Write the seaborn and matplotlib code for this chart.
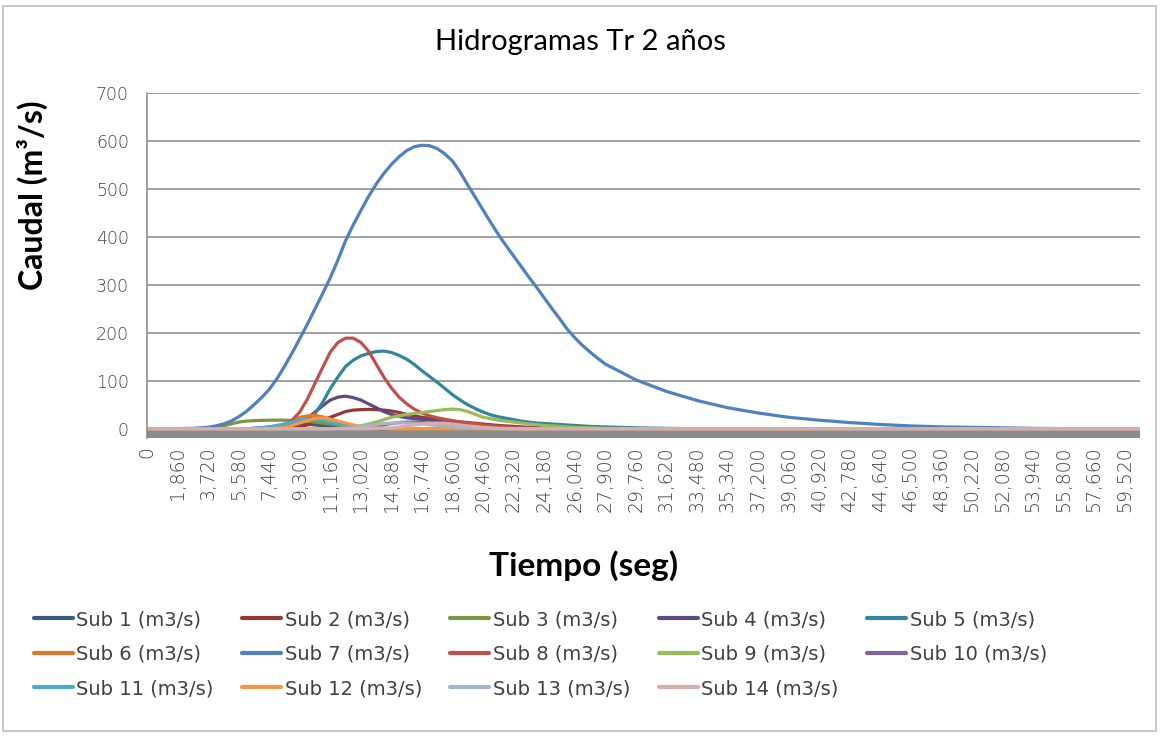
import matplotlib

matplotlib.use("Agg")
import matplotlib.pyplot as plt  # noqa: E402
import pandas as pd  # noqa: E402
import seaborn as sns  # noqa: E402
from matplotlib.lines import Line2D  # noqa: E402
from matplotlib.patches import Rectangle  # noqa: E402
from matplotlib.ticker import FuncFormatter, MultipleLocator  # noqa: E402

# tiempo (s): coarse at the ends, finer where the hydrographs move
tiempo = [
    0, 930, 1860, 2790, 3720,
    4185, 4650, 5115, 5580, 6045, 6510, 6975, 7440, 7905, 8370,
    8835, 9300, 9765, 10230, 10695, 11160, 11625, 12090, 12555, 13020,
    13485, 13950, 14415, 14880, 15345, 15810, 16275, 16740, 17205, 17670,
    18135, 18600, 19065, 19530, 19995, 20460, 20925, 21390, 21855, 22320,
    22785, 23250, 23715, 24180, 24645, 25110, 25575, 26040, 26505, 26970, 27435, 27900,
    29760, 31620, 33480, 35340, 37200, 39060, 40920, 42780, 44640, 46500,
    48360, 50220, 52080, 53940, 55800, 57660, 59520, 60450,
]

sub1 = [
    0, 0, 0, 0, 0,
    0, 0, 0, 0, 0, 1, 2, 4, 6, 8,
    9.5, 10, 9.5, 8, 6.5, 5, 3.5, 2, 1.5, 1,
    0.5, 0, 0, 0, 0, 0, 0, 0, 0, 0,
    0, 0, 0, 0, 0, 0, 0, 0, 0, 0,
    0, 0, 0, 0, 0, 0, 0, 0, 0, 0, 0, 0,
    0, 0, 0, 0, 0, 0, 0, 0, 0, 0, 0, 0, 0, 0, 0, 0, 0, 0,
]
sub2 = [
    0, 0, 0, 0, 0,
    0, 0, 0, 0, 0, 0, 0, 0, 0.5, 1,
    2.5, 5, 8, 12, 18, 24, 30, 36, 39, 40,
    40.5, 40, 39, 37, 34, 30, 27, 24, 22, 20,
    18, 16, 14.5, 13, 11.5, 10, 8.5, 7, 6, 5,
    4, 3, 2.5, 2, 1.5, 1, 0.5, 0, 0, 0, 0, 0,
    0, 0, 0, 0, 0, 0, 0, 0, 0, 0, 0, 0, 0, 0, 0, 0, 0, 0,
]
sub3 = [
    0, 0, 0, 0, 1,
    3, 6, 10, 14, 16, 17, 17.5, 18, 18, 18,
    17.5, 17, 16, 14, 12, 10, 8, 6, 4.5, 3,
    2, 1.5, 1, 0.5, 0, 0, 0, 0, 0, 0,
    0, 0, 0, 0, 0, 0, 0, 0, 0, 0,
    0, 0, 0, 0, 0, 0, 0, 0, 0, 0, 0, 0,
    0, 0, 0, 0, 0, 0, 0, 0, 0, 0, 0, 0, 0, 0, 0, 0, 0, 0,
]
sub4 = [
    0, 0, 0, 0, 0,
    0, 0, 0, 0, 0, 0, 0, 0.5, 1.5, 3,
    6, 12, 22, 35, 48, 60, 66, 68, 65, 60,
    52, 44, 36, 30, 26, 23, 21, 19.5, 18, 17,
    15, 13, 11, 9, 7.5, 6, 5, 4, 3, 2,
    1.5, 1, 0.5, 0, 0, 0, 0, 0, 0, 0, 0, 0,
    0, 0, 0, 0, 0, 0, 0, 0, 0, 0, 0, 0, 0, 0, 0, 0, 0, 0,
]
sub5 = [
    0, 0, 0, 0, 0,
    0, 0, 0, 0, 0, 0.5, 1, 2, 3, 5,
    8, 13, 20, 32, 55, 84, 108, 130, 143, 152,
    157, 161, 162, 159, 153, 145, 134, 121, 109, 97,
    84, 71, 60, 50, 42, 35, 29, 25, 22, 19,
    16, 14, 12, 11, 10, 9, 8, 7, 6, 5, 4.5, 4,
    2, 1, 0, 0, 0, 0, 0, 0, 0, 0, 0, 0, 0, 0, 0, 0, 0, 0,
]
sub6 = [
    0, 0, 0, 0, 0,
    0, 0, 0, 0, 0, 0, 0.5, 2, 5, 10,
    17, 24, 27, 28, 25, 20, 15, 10, 6.5, 4,
    2, 1, 0.5, 0, 0, 0, 0, 0, 0, 0,
    0, 0, 0, 0, 0, 0, 0, 0, 0, 0,
    0, 0, 0, 0, 0, 0, 0, 0, 0, 0, 0, 0,
    0, 0, 0, 0, 0, 0, 0, 0, 0, 0, 0, 0, 0, 0, 0, 0, 0, 0,
]
sub7 = [
    0, 0, 0.5, 1, 3,
    6, 10, 16, 25, 36, 50, 65, 82, 104, 130,
    158, 188, 218, 250, 282, 315, 352, 392, 425, 455,
    484, 510, 532, 551, 567, 580, 588, 591, 590, 584,
    573, 558, 535, 508, 482, 456, 430, 405, 382, 360,
    338, 316, 295, 273, 251, 230, 208, 190, 174, 160, 147, 135,
    102, 78, 59, 44, 33, 24, 18, 13, 9, 6, 4, 3, 2, 1, 0.5, 0, 0, 0,
]
sub8 = [
    0, 0, 0, 0, 0,
    0, 0, 0, 0, 0, 0, 0.5, 2, 4, 8,
    18, 35, 62, 95, 128, 160, 180, 189, 189, 180,
    162, 135, 108, 85, 66, 52, 41, 33, 27, 23,
    20, 17, 14, 12, 10, 8, 6.5, 5, 4, 3,
    2, 1.5, 1, 0.5, 0, 0, 0, 0, 0, 0, 0, 0,
    0, 0, 0, 0, 0, 0, 0, 0, 0, 0, 0, 0, 0, 0, 0, 0, 0, 0,
]
sub9 = [
    0, 0, 0, 0, 0,
    0, 0, 0, 0, 0, 0, 0, 0, 0, 0,
    0, 0, 0, 0, 0, 0, 1, 2, 4, 6,
    10, 14, 19, 24, 27, 30, 32, 34, 36, 38,
    40, 41, 40, 36, 30, 24, 21, 18, 16, 14,
    12, 10, 8.5, 7, 6, 5, 4, 3, 2.5, 2, 1.5, 1,
    0.5, 0, 0, 0, 0, 0, 0, 0, 0, 0, 0, 0, 0, 0, 0, 0, 0, 0,
]
sub10 = [
    0, 0, 0, 0, 0,
    0, 0, 0, 0, 0, 0, 0, 0, 0, 0,
    0, 0, 0, 0, 0, 0, 0, 0, 1, 2,
    4, 6, 8.5, 11, 13, 14, 14, 13, 11.5, 10,
    8.5, 7, 5.5, 4, 3, 2, 1.5, 1, 0.5, 0,
    0, 0, 0, 0, 0, 0, 0, 0, 0, 0, 0, 0,
    0, 0, 0, 0, 0, 0, 0, 0, 0, 0, 0, 0, 0, 0, 0, 0, 0, 0,
]
sub11 = [
    0, 0, 0, 0, 0,
    0, 0, 0, 0, 0, 1, 2, 4, 7, 10,
    14, 18, 20, 20, 18, 14, 10, 7, 5, 3,
    2, 1, 0.5, 0, 0, 0, 0, 0, 0, 0,
    0, 0, 0, 0, 0, 0, 0, 0, 0, 0,
    0, 0, 0, 0, 0, 0, 0, 0, 0, 0, 0, 0,
    0, 0, 0, 0, 0, 0, 0, 0, 0, 0, 0, 0, 0, 0, 0, 0, 0, 0,
]
sub12 = [
    0, 0, 0, 0, 0,
    0, 0, 0, 0, 0, 0, 0, 0, 1, 3,
    7, 12, 17, 22, 22.5, 20, 16, 12, 8, 5,
    3, 2, 1, 0, 0, 0, 0, 0, 0, 0,
    0, 0, 0, 0, 0, 0, 0, 0, 0, 0,
    0, 0, 0, 0, 0, 0, 0, 0, 0, 0, 0, 0,
    0, 0, 0, 0, 0, 0, 0, 0, 0, 0, 0, 0, 0, 0, 0, 0, 0, 0,
]
sub13 = [
    0, 0, 0, 0, 0,
    0, 0, 0, 0, 0, 0, 0, 0, 0, 0,
    0, 0, 0, 0, 0, 0, 0.5, 1, 2, 4,
    6.5, 9, 11, 12, 12.5, 12, 11, 10, 8.5, 7,
    5.5, 4, 3, 2, 1.5, 1, 0.5, 0, 0, 0,
    0, 0, 0, 0, 0, 0, 0, 0, 0, 0, 0, 0,
    0, 0, 0, 0, 0, 0, 0, 0, 0, 0, 0, 0, 0, 0, 0, 0, 0, 0,
]
sub14 = [
    0, 0, 0, 0, 0,
    0, 0, 0, 0, 0, 0, 0, 0, 0, 0,
    0, 0, 0, 0, 0, 0, 0, 0, 0, 0,
    0, 0, 1, 2, 4, 6, 8, 10, 11.5, 12,
    11.5, 10, 8, 6, 4.5, 3, 2, 1, 0.5, 0,
    0, 0, 0, 0, 0, 0, 0, 0, 0, 0, 0, 0,
    0, 0, 0, 0, 0, 0, 0, 0, 0, 0, 0, 0, 0, 0, 0, 0, 0, 0,
]

series = [sub1, sub2, sub3, sub4, sub5, sub6, sub7,
          sub8, sub9, sub10, sub11, sub12, sub13, sub14]
nombres = [f"Sub {i} (m3/s)" for i in range(1, 15)]
colores = [
    "#3B5A80", "#953735", "#7E9446", "#5E4A7C", "#31859C", "#E0782A", "#4F81BD",
    "#C0504D", "#9BBB59", "#8064A2", "#4BACC6", "#F79646", "#A5B4CE", "#D6AFAD",
]
assert all(len(s) == len(tiempo) for s in series)

rows = []
for nombre, vals in zip(nombres, series):
    for t, q in zip(tiempo, vals):
        rows.append({"Tiempo": t, "Caudal": q, "Serie": nombre})
df = pd.DataFrame(rows)

sns.set_theme(style="white")
plt.rcParams["font.family"] = ["Lato", "DejaVu Sans"]

fig = plt.figure(figsize=(11.61, 7.36), dpi=100)
fig.patch.set_facecolor("white")
fig.patches.append(Rectangle((0.003, 0.007), 0.993, 0.985, transform=fig.transFigure,
                             fill=False, edgecolor="#BFBFBF", linewidth=1.2))

ax = fig.add_axes([0.1266, 0.405, 0.8553, 0.4687])
ax.set_facecolor("white")

sns.lineplot(data=df, x="Tiempo", y="Caudal", hue="Serie", hue_order=nombres,
             palette=dict(zip(nombres, colores)), linewidth=2.3, sort=False,
             legend=False, ax=ax)
for ln in ax.get_lines():
    ln.set_solid_joinstyle("round")

ax.axhspan(-19, 0, color="#8E8B8F", zorder=1.5, linewidth=0)
ax.set_xlim(0, tiempo[-1])
ax.set_ylim(-19, 700)
ax.set_yticks(range(0, 701, 100))
ax.xaxis.set_major_locator(MultipleLocator(1860))
ax.xaxis.set_major_formatter(FuncFormatter(lambda v, _: f"{v:,.0f}"))
ax.grid(axis="y", color="#868686", linewidth=1.1)
ax.set_axisbelow(True)

for side in ("top", "right", "bottom"):
    ax.spines[side].set_visible(False)
ax.spines["left"].set_color("#868686")
ax.spines["left"].set_linewidth(1.1)

ax.tick_params(axis="y", length=7, width=1.1, color="#868686", pad=6,
               labelsize=12.5, labelcolor="#404040")
ax.tick_params(axis="x", length=0, pad=6, labelsize=13.5, labelcolor="#404040",
               labelrotation=90)
for lab in ax.get_xticklabels() + ax.get_yticklabels():
    lab.set_family("DejaVu Sans")
    lab.set_fontweight("light")

ax.set_xlabel("")
ax.set_ylabel("")

fig.text(0.5, 0.943, "Hidrogramas Tr 2 años", ha="center", va="center",
         fontsize=21, color="black")
fig.text(0.503, 0.232, "Tiempo (seg)", ha="center", va="center",
         fontsize=24, fontweight="bold", color="black")
fig.text(0.028, 0.735, "Caudal (m³/s)", ha="center", va="center", rotation=90,
         fontsize=23, fontweight="bold", color="black")

handles = [Line2D([], [], color=c, linewidth=3) for c in colores]
# matplotlib fills the legend column by column; reorder so it reads row by row
orden = [0, 5, 10, 1, 6, 11, 2, 7, 12, 3, 8, 13, 4, 9]
leg = fig.legend([handles[i] for i in orden], [nombres[i] for i in orden],
                 ncol=5, loc="upper left", bbox_to_anchor=(0.029, 0.171),
                 frameon=False, fontsize=14, handlelength=2.0,
                 handletextpad=0.2, columnspacing=1.45, labelspacing=0.8,
                 borderpad=0, borderaxespad=0)
for txt in leg.get_texts():
    txt.set_color("#404040")
    txt.set_family("DejaVu Sans")

fig.savefig("out.png", dpi=100)
